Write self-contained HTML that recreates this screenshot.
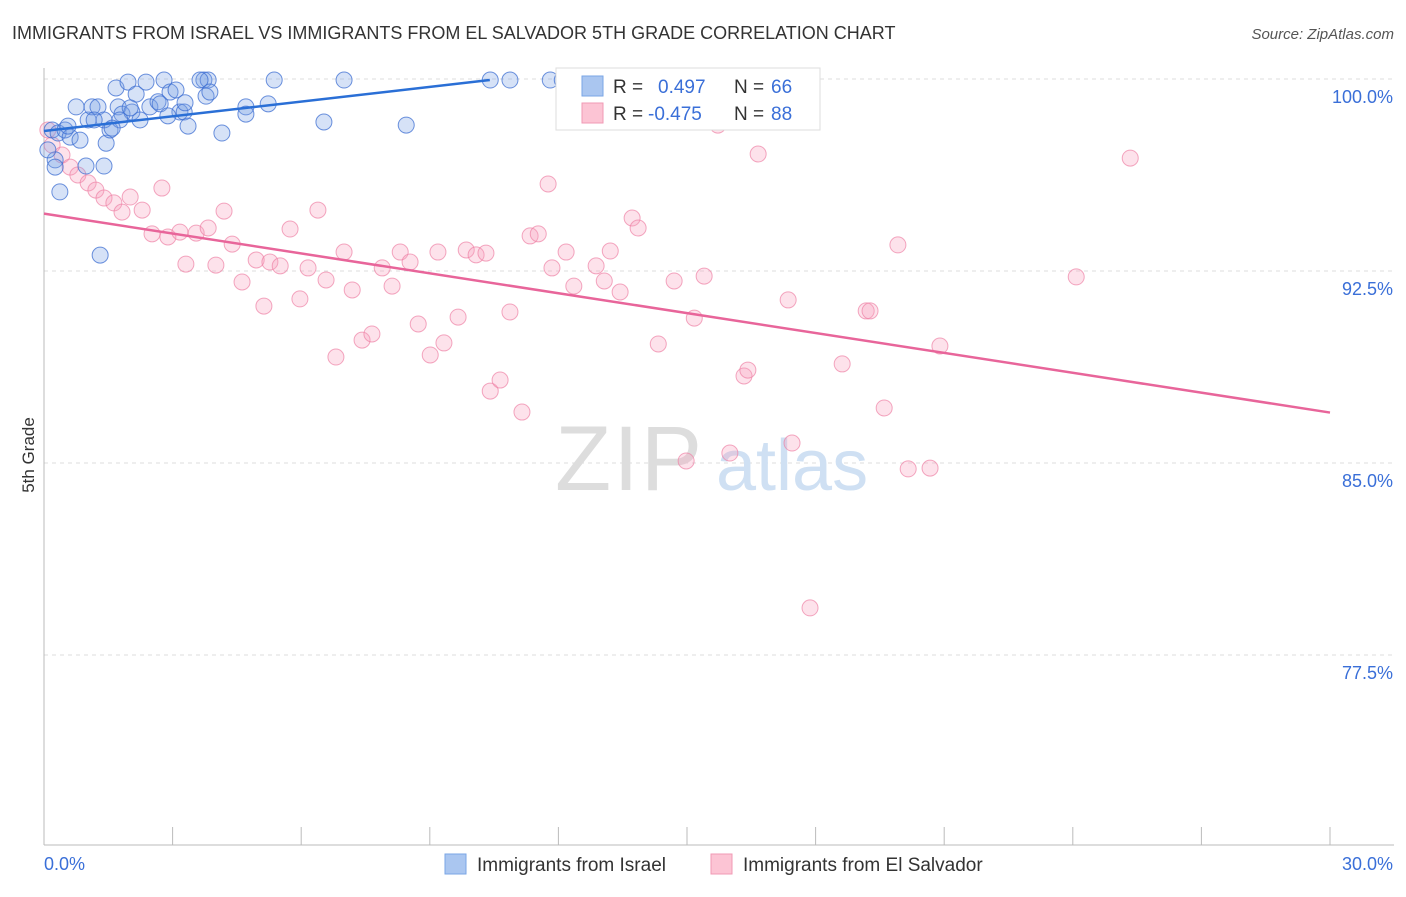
<!DOCTYPE html>
<html><head><meta charset="utf-8"><style>
body{margin:0;background:#fff;font-family:"Liberation Sans",sans-serif}
svg text{font-family:"Liberation Sans",sans-serif}
</style></head><body>
<svg id="chart" width="1406" height="892" xmlns="http://www.w3.org/2000/svg">
<text x="12" y="39" font-size="18" fill="#333">IMMIGRANTS FROM ISRAEL VS IMMIGRANTS FROM EL SALVADOR 5TH GRADE CORRELATION CHART</text>
<text x="1394" y="39" font-size="15" fill="#555" font-style="italic" text-anchor="end">Source: ZipAtlas.com</text>
<text transform="translate(34,455) rotate(-90)" font-size="17" fill="#333" text-anchor="middle">5th Grade</text>
<g id="grid"></g>
<g id="yticks"></g>
<g id="xticks"></g>
<g>
<text x="555" y="490" font-size="92" fill="#ddd" font-family="Liberation Serif" letter-spacing="2">ZIP</text>
<text x="716" y="490" font-size="72" fill="#cfe0f3">atlas</text>
</g>
<g id="points"></g>
<g id="lines"></g>
<g>
<rect x="556" y="68" width="264" height="62" fill="#fff" stroke="#ddd"/>
<rect x="582" y="76" width="21" height="20" fill="#aac6f0" stroke="#7aa6e6"/>
<rect x="582" y="103" width="21" height="20" fill="#fcc4d4" stroke="#f09ab4"/>
<text x="613" y="93" font-size="19" fill="#333">R =</text>
<text x="658" y="93" font-size="19" fill="#3a6fd8">0.497</text>
<text x="734" y="93" font-size="19" fill="#333">N =</text>
<text x="771" y="93" font-size="19" fill="#3a6fd8">66</text>
<text x="613" y="120" font-size="19" fill="#333">R =</text>
<text x="648" y="120" font-size="19" fill="#3a6fd8">-0.475</text>
<text x="734" y="120" font-size="19" fill="#333">N =</text>
<text x="771" y="120" font-size="19" fill="#3a6fd8">88</text>
</g>
<g>
<rect x="445" y="854" width="21" height="20" fill="#aac6f0" stroke="#7aa6e6"/>
<text x="477" y="871" font-size="19" fill="#333">Immigrants from Israel</text>
<rect x="711" y="854" width="21" height="20" fill="#fcc4d4" stroke="#f09ab4"/>
<text x="743" y="871" font-size="19" fill="#333">Immigrants from El Salvador</text>
</g>
</svg>
<script>
const israelX=[0.26,0.37,0.19,0.33,0.49,0.61,0.75,0.84,0.98,1.03,1.12,1.26,1.31,1.40,1.45,1.54,1.68,1.73,1.82,1.96,2.05,2.15,2.24,2.38,2.47,2.66,2.80,2.94,3.08,3.17,3.27,3.36,3.73,3.83,3.78,3.87,4.15,4.71,4.71,5.23,5.37,6.53,7.00,8.45,10.41,10.87,11.81,12.09,15.91,1.77,2.71,1.40,0.09,0.26,0.56,1.17,1.59,2.01,2.89,3.29,3.64];
const israelY=[96.84,95.59,98.01,97.89,98.01,97.73,98.91,97.61,96.60,98.40,98.91,98.91,93.12,96.60,97.49,98.01,99.65,98.91,98.63,99.88,98.71,99.41,98.40,99.88,98.91,99.11,99.96,99.49,99.57,98.71,98.71,98.16,99.96,99.96,99.33,99.49,97.89,98.91,98.63,99.03,99.96,98.32,99.96,98.20,99.96,99.96,99.96,99.96,99.96,98.40,99.03,98.40,97.23,96.56,98.16,98.40,98.08,98.87,98.56,99.07,99.96];
const salvX=[0.09,0.19,0.42,0.61,0.79,1.03,1.21,1.40,1.63,1.82,2.01,2.29,2.52,2.75,2.89,3.17,3.31,3.55,3.83,4.01,4.20,4.39,4.62,4.95,5.13,5.27,5.51,5.74,5.97,6.16,6.39,6.58,6.81,7.00,7.19,7.42,7.65,7.89,8.12,8.31,8.54,8.73,9.01,9.19,9.33,9.66,9.85,10.08,10.31,10.41,10.64,10.87,11.15,11.34,11.53,11.76,11.85,12.18,12.36,12.88,13.07,13.21,13.44,13.72,13.86,14.33,14.70,14.98,15.17,15.40,15.72,16.00,16.33,16.42,16.66,17.36,17.45,17.87,18.62,19.18,19.27,19.60,19.92,20.16,20.67,20.90,24.08,25.34];
const salvY=[98.01,97.42,97.03,96.56,96.25,95.94,95.66,95.35,95.16,94.80,95.39,94.88,93.95,95.74,93.83,94.02,92.77,93.98,94.18,92.73,94.84,93.55,92.07,92.93,91.13,92.85,92.70,94.14,91.41,92.62,94.88,92.15,89.14,93.24,91.76,89.80,90.04,92.62,91.91,93.24,92.85,90.43,89.22,93.24,89.69,90.70,93.32,93.13,93.20,87.81,88.24,90.90,86.99,93.87,93.95,95.90,92.62,93.24,91.91,92.70,92.11,93.28,91.68,94.57,94.18,89.65,92.11,85.08,90.66,92.30,98.20,85.39,88.40,88.63,97.07,91.37,85.78,79.34,88.87,90.94,90.94,87.15,93.52,84.77,84.80,89.57,92.27,96.91];
const israelTrend=[[0,97.97],[10.4,99.96]];
const salvTrend=[[0,94.74],[30,86.97]];
const yTicks=[100,92.5,85,77.5];
const yTickLabels=["100.0%","92.5%","85.0%","77.5%"];
const xTicks=[0,3,6,9,12,15,18,21,24,27,30];
const xEndLabels=["0.0%","30.0%"];
const NS="http://www.w3.org/2000/svg";
const sx=v=>44+v*(1286/30);
const sy=v=>79+(100-v)*(192/7.5);
function mk(tag,attrs,parent){const e=document.createElementNS(NS,tag);for(const k in attrs)e.setAttribute(k,attrs[k]);parent.appendChild(e);return e;}
const grid=document.getElementById('grid'),yt=document.getElementById('yticks'),xt=document.getElementById('xticks');
yTicks.forEach((t,i)=>{
 const l=mk('line',{x1:44,x2:1394,y1:sy(t),y2:sy(t),stroke:'#ddd','stroke-dasharray':'4,4'},grid);
 
 
 const tx=mk('text',{x:1393,y:sy(t)+24,'font-size':18,fill:'#3a6fd8','text-anchor':'end'},yt);
 tx.textContent=yTickLabels[i];
 
 
});
const ax=mk('line',{x1:44,x2:44,y1:68,y2:845,stroke:'#bbb'},xt);


const bx=mk('line',{x1:44,x2:1394,y1:845,y2:845,stroke:'#bbb'},xt);


xTicks.forEach(t=>{const l=mk('line',{x1:sx(t),x2:sx(t),y1:827,y2:845,stroke:'#bbb'},xt);
 
 });
const xl0=mk('text',{x:44,y:870,'font-size':18,fill:'#3a6fd8'},xt);xl0.textContent=xEndLabels[0];


const xl1=mk('text',{x:1393,y:870,'font-size':18,fill:'#3a6fd8','text-anchor':'end'},xt);xl1.textContent=xEndLabels[1];


const pts=document.getElementById('points');
salvX.forEach((x,i)=>{const c=mk('circle',{cx:sx(x),cy:sy(salvY[i]),r:8,fill:'rgba(248,160,188,0.3)',stroke:'rgba(238,130,165,0.7)','stroke-width':1},pts);
 
 });
israelX.forEach((x,i)=>{const c=mk('circle',{cx:sx(x),cy:sy(israelY[i]),r:8,fill:'rgba(120,160,230,0.3)',stroke:'rgba(60,110,210,0.75)','stroke-width':1},pts);
 
 });
const ln=document.getElementById('lines');
const l1=mk('line',{x1:sx(israelTrend[0][0]),y1:sy(israelTrend[0][1]),x2:sx(israelTrend[1][0]),y2:sy(israelTrend[1][1]),stroke:'#2a6fd6','stroke-width':2.5},ln);


const l2=mk('line',{x1:sx(salvTrend[0][0]),y1:sy(salvTrend[0][1]),x2:sx(salvTrend[1][0]),y2:sy(salvTrend[1][1]),stroke:'#e8659a','stroke-width':2.5},ln);


</script>
</body></html>
